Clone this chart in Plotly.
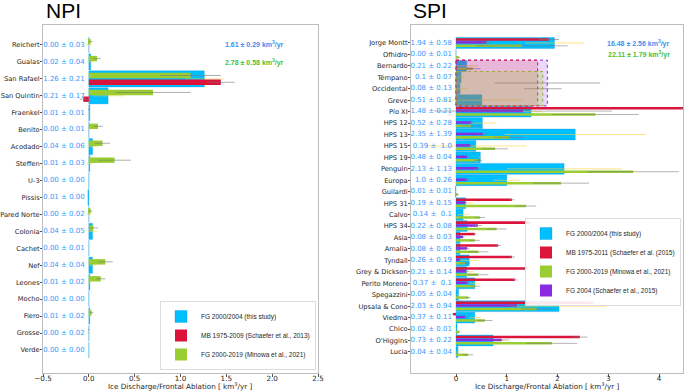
import plotly.graph_objects as go

# ---------------- data ----------------
npi_glaciers = ["Reichert", "Gualas", "San Rafael", "San Quintin", "Fraenkel", "Benito",
                "Acodado", "Steffen", "U-3", "Pissis", "Pared Norte", "Colonia", "Cachet",
                "Nef", "Leones", "Mocho", "Fiero", "Grosse", "Verde"]
npi_fg = [0.00, 0.02, 1.26, 0.21, 0.01, 0.00, 0.04, 0.01, 0.00, -0.01, 0.00, 0.04, 0.00,
          0.04, 0.01, 0.00, 0.01, 0.00, 0.00]
npi_fg_err = [0.03, 0.04, 0.21, 0.17, 0.01, 0.01, 0.06, 0.03, 0.00, 0.00, 0.02, 0.05, 0.01,
              0.04, 0.02, 0.00, 0.02, 0.02, 0.00]
npi_mb = [0, 0, 1.44, -0.06, 0, 0, 0, 0, 0, 0, 0, 0, 0, 0, 0, 0, 0, 0, 0]
npi_mb_err = [0, 0, 0.15, 0.04, 0, 0, 0, 0, 0, 0, 0, 0, 0, 0, 0, 0, 0, 0, 0]
npi_minowa = [0.02, 0.09, 1.11, 0.70, 0.00, 0.10, 0.15, 0.28, 0.00, 0.00, 0.02, 0.05, 0.00,
              0.18, 0.13, 0.00, 0.03, 0.00, 0.00]
npi_minowa_err = [0.02, 0.04, 0.33, 0.41, 0.01, 0.05, 0.08, 0.18, 0.00, 0.00, 0.02, 0.05, 0.00,
                  0.08, 0.05, 0.00, 0.02, 0.01, 0.00]
npi_total_fg, npi_total_fg_err = 1.61, 0.29
npi_total_minowa, npi_total_minowa_err = 2.78, 0.58

spi_glaciers = ["Jorge Montt", "Ofhidro", "Bernardo", "Témpano", "Occidental", "Greve",
                "Pío XI", "HPS 12", "HPS 13", "HPS 15", "HPS 19", "Penguin", "Europa",
                "Guilardi", "HPS 31", "Calvo", "HPS 34", "Asia", "Amalia", "Tyndall",
                "Grey & Dickson", "Perito Moreno", "Spegazzini", "Upsala & Cono", "Viedma",
                "Chico", "O'Higgins", "Lucia"]
spi_fg = [1.94, 0.00, 0.21, 0.10, 0.08, 0.51, 1.48, 0.52, 2.35, 0.39, 0.48, 2.13, 1.00,
          -0.01, 0.19, 0.14, 0.22, 0.08, 0.08, 0.26, 0.21, 0.37, 0.05, 2.03, 0.37, 0.02,
          0.73, 0.04]
spi_fg_err = [0.58, 0.01, 0.22, 0.07, 0.13, 0.81, 0.21, 0.28, 1.39, 1.00, 0.04, 1.13, 0.26,
              0.01, 0.15, 0.10, 0.08, 0.03, 0.05, 0.19, 0.14, 0.10, 0.04, 0.94, 0.11, 0.01,
              0.22, 0.04]
spi_mb = [1.83, 0, 0, 0, 0, 0, 4.60, 0, 0, 0, 0, 0, 0, 0, 1.10, 0, 1.46, 0.37, 0.83, 1.10,
          1.40, 1.16, 0, 2.70, -0.06, 0, 2.44, 0]
spi_mb_err = [0.20, 0, 0, 0, 0, 0, 0.20, 0, 0, 0, 0, 0, 0, 0, 0.05, 0, 0.06, 0.03, 0.05, 0.06,
              0.06, 0.05, 0, 0.15, 0.02, 0, 0.15, 0]
spi_fg04 = [0.60, 0, 0, 0, 0, 0, 1.32, 0.30, 0.53, 0.28, 0.22, 0.43, 0.21, 0, 0.18, 0, 0.43,
            0.14, 0.22, 0.08, 0.20, 0.22, 0, 1.20, 0.18, 0, 0.90, 0]
spi_fg04_err = [0.10, 0, 0, 0, 0, 0, 1.75, 0.05, 0.10, 0.05, 0.03, 0.08, 0.05, 0, 0.04, 0, 0.08,
                0.03, 0.05, 0.02, 0.05, 0.05, 0, 0.20, 0.04, 0, 0.15, 0]
spi_minowa = [1.30, 0.05, 0.33, 0.05, 0.03, 0.00, 2.75, 0.30, 1.05, 0.77, 0.44, 3.49, 2.07,
              0.03, 1.38, 0.47, 0.80, 0.37, 0.44, 0.18, 0.44, 0.38, 0.24, 1.59, 0.57, 0.06,
              1.89, 0.24]
spi_minowa_err = [0.90, 0.03, 0.15, 0.05, 0.05, 0.00, 0.85, 0.20, 0.30, 0.25, 0.08, 0.90, 0.55,
                  0.02, 0.20, 0.10, 0.20, 0.10, 0.20, 0.10, 0.20, 0.10, 0.05, 0.30, 0.15, 0.03,
                  0.50, 0.10]
# grouped values (Bernardo-Greve complex)
group_mb_glaciers = ["Bernardo", "Greve"]
group_mb = 1.61
group_fg04_glaciers = ["Bernardo", "Greve"]
group_fg04, group_fg04_err = 1.80, 1.04
group_minowa_glaciers = ["Témpano", "Greve"]
group_minowa, group_minowa_err = 1.71, 0.37
spi_total_fg, spi_total_fg_err = 16.48, 2.56
spi_total_minowa, spi_total_minowa_err = 22.11, 1.79
x_title = "Ice Discharge/Frontal Ablation [ km<sup>3</sup>/yr ]"

# ---------------- style ----------------
W, H = 685, 392
BLUE = "#00bfff"
RED = "#dc143c"
GREEN = "#9acd32"
PURPLE = "#8a2be2"
TXTBLUE = "#3399ff"
FONT = "DejaVu Sans"


def py(p):
    return 1 - p / H


fig = go.Figure()


def add_bars(vals, errs, xa, ya, name, color, width, center, legend, err_color,
             line=None, showlegend=True):
    n = len(vals)
    fig.add_trace(go.Bar(
        x=vals, y=list(range(n)), orientation="h", xaxis=xa, yaxis=ya,
        width=width, offset=center - width / 2, name=name,
        marker=dict(color=color, line=line or dict(width=0)),
        error_x=dict(type="data", array=errs, visible=True, color=err_color,
                     thickness=1, width=0),
        legend=legend, showlegend=showlegend, hoverinfo="skip"))


# NPI
add_bars(npi_fg, npi_fg_err, "x", "y", "FG 2000/2004 (this study)", BLUE, 0.95, 0.0,
         "legend", "rgba(250,210,60,0.55)", line=dict(color="rgba(0,140,220,0.5)", width=0.6))
add_bars(npi_mb, npi_mb_err, "x", "y", "MB 1975-2009 (Schaefer et al., 2013)", RED, 0.32, 0.2,
         "legend", "rgba(120,120,120,0.6)")
add_bars(npi_minowa, npi_minowa_err, "x", "y", "FG 2000-2019 (Minowa et al., 2021)", GREEN,
         0.32, -0.2, "legend", "rgba(120,120,120,0.6)")

npi_text = [f"{v:.2f} ± {e:.2f}" for v, e in zip(npi_fg, npi_fg_err)]
fig.add_trace(go.Scatter(x=[-0.045] * len(npi_glaciers), y=list(range(len(npi_glaciers))),
                         mode="text", text=npi_text, textposition="middle left",
                         textfont=dict(color=TXTBLUE, size=7, family=FONT),
                         xaxis="x", yaxis="y", showlegend=False, hoverinfo="skip"))

# SPI
add_bars(spi_fg, spi_fg_err, "x2", "y2", "FG 2000/2004 (this study)", BLUE, 0.95, 0.0,
         "legend2", "rgba(250,210,60,0.6)", line=dict(color="rgba(0,140,220,0.5)", width=0.6))
add_bars(spi_mb, spi_mb_err, "x2", "y2", "MB 1975-2011 (Schaefer et al. (2015)", RED, 0.22, -0.3,
         "legend2", "rgba(120,120,120,0.6)")
add_bars(spi_minowa, spi_minowa_err, "x2", "y2", "FG 2000-2019 (Minowa et al., 2021)", GREEN,
         0.22, 0.25, "legend2", "rgba(120,120,120,0.55)")
add_bars(spi_fg04, spi_fg04_err, "x2", "y2", "FG 2004 (Schaefer et al., 2015)", PURPLE, 0.22,
         -0.05, "legend2", "rgba(120,120,120,0.55)")


def fmt(v):
    s = f"{round(v, 2)}"
    return "0.00" if s in ("0.0", "-0.0") else s


spi_text = [f"{fmt(v)} ±\u00a0{fmt(e).rjust(4, chr(160))}" for v, e in zip(spi_fg, spi_fg_err)]
fig.add_trace(go.Scatter(x=[-0.08] * len(spi_glaciers), y=list(range(len(spi_glaciers))),
                         mode="text", text=spi_text, textposition="middle left",
                         textfont=dict(color=TXTBLUE, size=7, family=FONT),
                         xaxis="x2", yaxis="y2", showlegend=False, hoverinfo="skip"))

# grouped boxes
shapes = []
for gl, val, col, fill in [(group_fg04_glaciers, group_fg04, PURPLE, "rgba(138,43,226,0.18)"),
                           (group_mb_glaciers, group_mb, RED, "rgba(220,20,60,0.18)"),
                           (group_minowa_glaciers, group_minowa, "#9aaa32", "rgba(154,205,50,0.25)")]:
    i0 = spi_glaciers.index(gl[0])
    i1 = spi_glaciers.index(gl[1])
    shapes.append(dict(type="rect", xref="x2", yref="y2", x0=0, x1=val, y0=i0 - 0.5,
                       y1=i1 + 0.5, fillcolor=fill, line=dict(color=col, width=1, dash="dot"),
                       layer="above"))

for gl, val, err in [(group_fg04_glaciers, group_fg04, group_fg04_err),
                     (group_minowa_glaciers, group_minowa, group_minowa_err)]:
    i0 = spi_glaciers.index(gl[0])
    i1 = spi_glaciers.index(gl[1])
    fig.add_trace(go.Scatter(x=[val], y=[(i0 + i1) / 2], mode="markers",
                             marker=dict(size=1, color="rgba(0,0,0,0)"),
                             error_x=dict(type="data", array=[err], color="rgba(120,120,120,0.6)",
                                          thickness=1, width=0),
                             xaxis="x2", yaxis="y2", showlegend=False, hoverinfo="skip"))

# ---------------- layout ----------------
axis_common = dict(showline=True, mirror=True, linecolor="#bdbdbd", linewidth=1,
                   showgrid=False, zeroline=False, ticks="outside",
                   tickcolor="#555", automargin=False)
xfont = dict(size=7.2, color="#262626", family=FONT)
yfont = dict(size=6.7, color="#262626", family=FONT)

fig.update_layout(
    width=W, height=H, margin=dict(l=0, r=0, t=0, b=0),
    plot_bgcolor="white", paper_bgcolor="white", barmode="overlay",
    font=dict(family=FONT, size=7.5, color="#262626"),
    xaxis=dict(domain=[43 / W, 318 / W], range=[-0.5, 2.5],
               tickvals=[-0.5, 0, 0.5, 1.0, 1.5, 2.0, 2.5], tickformat=".1f",
               tickfont=xfont, ticklen=3, ticklabelstandoff=-5, anchor="y", **axis_common),
    yaxis=dict(domain=[py(373), py(25)], range=[19.36, -1.18],
               tickvals=list(range(len(npi_glaciers))), ticktext=npi_glaciers,
               tickfont=yfont, ticklen=2, ticklabelstandoff=-1, anchor="x", **axis_common),
    xaxis2=dict(domain=[411 / W, 683 / W], range=[-0.887, 4.473],
                tickvals=[0, 1, 2, 3, 4], tickfont=xfont, ticklen=3, ticklabelstandoff=-5,
                anchor="y2", **axis_common),
    yaxis2=dict(domain=[py(373), py(25)], range=[28.84, -1.57],
                tickvals=list(range(len(spi_glaciers))), ticktext=spi_glaciers,
                tickfont=yfont, ticklen=2, ticklabelstandoff=-1, anchor="x2", **axis_common),
    legend=dict(x=316 / W, xanchor="right", y=py(370), yanchor="bottom",
                bgcolor="rgba(255,255,255,0.9)", bordercolor="#dddddd", borderwidth=1,
                font=dict(size=6.5, family="Liberation Sans", color="#262626"),
                tracegroupgap=0, itemwidth=30),
    legend2=dict(x=681 / W, xanchor="right", y=py(218), yanchor="top",
                 bgcolor="rgba(255,255,255,0.9)", bordercolor="#dddddd", borderwidth=1,
                 font=dict(size=6.5, family="Liberation Sans", color="#262626"),
                 tracegroupgap=0, itemwidth=30),
    shapes=shapes,
    showlegend=True,
)

annotations = [
    dict(text="NPI", x=44 / W, y=py(11), xref="paper", yref="paper", xanchor="left",
         yanchor="middle", showarrow=False,
         font=dict(size=21, family="Liberation Sans", color="black")),
    dict(text="SPI", x=411 / W, y=py(11), xref="paper", yref="paper", xanchor="left",
         yanchor="middle", showarrow=False,
         font=dict(size=21, family="Liberation Sans", color="black")),
    dict(text=x_title, x=180.5 / W, y=py(392.5), xref="paper", yref="paper", xanchor="center",
         yanchor="bottom", showarrow=False, font=xfont),
    dict(text=x_title, x=547 / W, y=py(392.5), xref="paper", yref="paper", xanchor="center",
         yanchor="bottom", showarrow=False, font=xfont),
    dict(text=f"<b>{npi_total_fg:.2f} ± {npi_total_fg_err:.2f} km<sup>3</sup>/yr</b>",
         x=286 / W, y=py(45), xref="paper", yref="paper", xanchor="right", yanchor="middle",
         showarrow=False, font=dict(size=7, family="Liberation Sans", color="#3d8ff0")),
    dict(text=f"<b>{npi_total_minowa:.2f} ± {npi_total_minowa_err:.2f} km<sup>3</sup>/yr</b>",
         x=286 / W, y=py(62), xref="paper", yref="paper", xanchor="right", yanchor="middle",
         showarrow=False, font=dict(size=7, family="Liberation Sans", color="#44c23a")),
    dict(text=f"<b>{spi_total_fg:.2f} ± {spi_total_fg_err:.2f} km<sup>3</sup>/yr</b>",
         x=672 / W, y=py(43), xref="paper", yref="paper", xanchor="right", yanchor="middle",
         showarrow=False, font=dict(size=7, family="Liberation Sans", color="#3d8ff0")),
    dict(text=f"<b>{spi_total_minowa:.2f} ± {spi_total_minowa_err:.2f} km<sup>3</sup>/yr</b>",
         x=672 / W, y=py(55), xref="paper", yref="paper", xanchor="right", yanchor="middle",
         showarrow=False, font=dict(size=7, family="Liberation Sans", color="#44c23a")),
]
fig.update_layout(annotations=annotations)

fig.write_html("out.html", config={"displayModeBar": False},
               post_script="document.body.style.margin='0';document.body.style.overflow='hidden';")
